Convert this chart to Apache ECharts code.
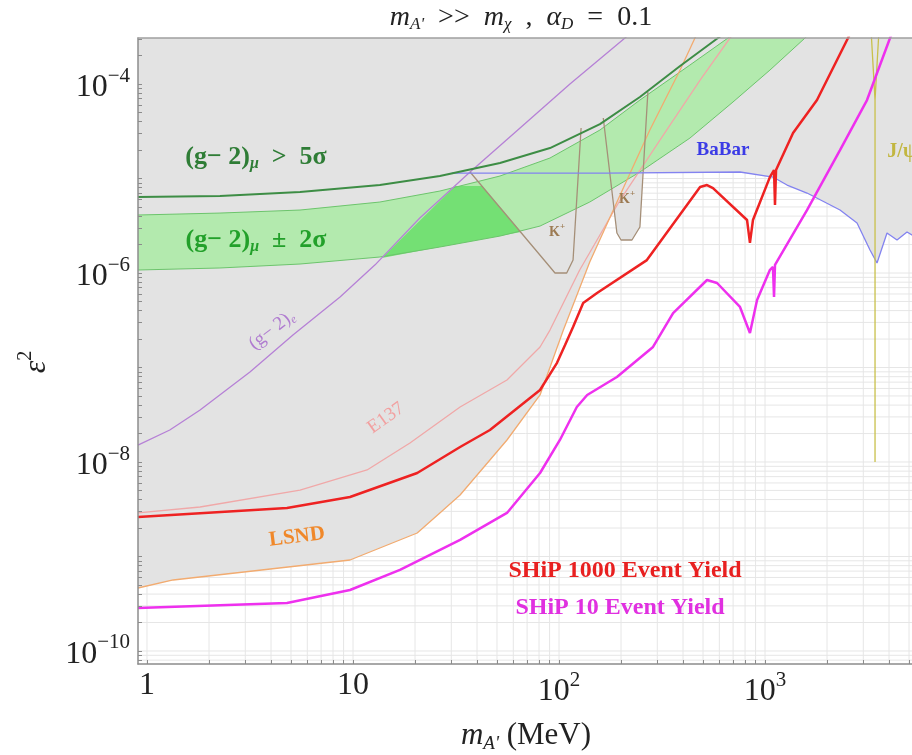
<!DOCTYPE html>
<html>
<head>
<meta charset="utf-8">
<script src="https://cdn.jsdelivr.net/npm/echarts@6.0.0/dist/echarts.min.js"></script>
<style>
  html, body { margin: 0; padding: 0; background: #fff; }
  #chart { width: 912px; height: 755px; }
</style>
</head>
<body>
<div id="chart"></div>
<script>
// axis ranges: m_A' in MeV, epsilon^2
const xRange = [0.9043, 5287]
const yRange = [7.28e-11, 3.07e-4]
const xLabelValues = [1, 10, 100, 1000]
const yLabelValues = [1e-10, 1e-8, 1e-6, 1e-4]

// curves, [m_A' (MeV), eps^2]
const gm2e = [[0.904, 1.51e-8], [1.29, 2.18e-8], [1.81, 3.55e-8], [3.16, 8.95e-8], [5.11, 2.21e-7], [8.65, 5.57e-7], [12.8, 1.22e-6], [21.1, 3.82e-6], [37.0, 1.17e-5], [64.7, 3.42e-5], [113, 1e-4], [209, 3.07e-4], [277, 5.4e-4]]
const gm2mu5sigma = [[0.904, 6.37e-6], [2.26, 6.53e-6], [5.53, 7.2e-6], [13.5, 8.53e-6], [26.4, 1.063e-5], [51.7, 1.459e-5], [90.4, 2.1e-5], [158, 3.77e-5], [247, 7.29e-5], [387, 1.55e-4], [591, 3.07e-4], [756, 4.53e-4]]
const bandUpper = [[0.904, 4.11e-6], [2.26, 4.31e-6], [5.53, 4.64e-6], [13.5, 5.64e-6], [26.4, 7.37e-6], [51.7, 1.063e-5], [90.4, 1.648e-5], [158, 3.26e-5], [247, 6.77e-5], [432, 1.589e-4], [661, 3.07e-4], [845, 4.75e-4]]
const bandLower = [[0.904, 1.076e-6], [2.26, 1.13e-6], [5.53, 1.245e-6], [13.5, 1.477e-6], [26.4, 1.884e-6], [51.7, 2.46e-6], [80.9, 3.14e-6], [141, 5.64e-6], [247, 1.172e-5], [432, 2.68e-5], [699, 6.45e-5], [1057, 1.406e-4], [1564, 3.07e-4], [1956, 4.75e-4]]
const bandAllowed = [[13.8, 1.442e-6], [31.3, 8.33e-6], [42.3, 8.33e-6], [65.4, 2.72e-6], [51.7, 2.46e-6], [26.4, 1.884e-6]]
const kaonA = [[37.0, 1.172e-5], [90.4, 1.157e-6], [95.6, 1e-6], [109, 1e-6], [117, 1.373e-6], [128, 3.42e-5]]
const kaonB = [[164, 4.37e-5], [191, 2.65e-6], [200, 2.235e-6], [226, 2.235e-6], [247, 3.07e-6], [270, 8.23e-5]]
const babar = [[30.2, 1.143e-5], [171, 1.143e-5], [756, 1.172e-5], [1093, 1.037e-5], [1279, 8.53e-6], [1599, 7.02e-6], [2312, 4.64e-6], [2797, 3.38e-6], [3233, 1.751e-6], [3497, 1.276e-6], [3910, 2.65e-6], [4373, 2.235e-6], [4890, 2.72e-6], [5654, 2.235e-6]]
const jpsi = [[3271, 3.73e-4], [3420, 6.77e-5], [3420, 1e-8], [3420, 6.77e-5], [3575, 3.73e-4]]
const lsnd = [[0.904, 4.64e-10], [1.34, 5.64e-10], [9.67, 9.18e-10], [20.5, 1.773e-9], [26.4, 2.89e-9], [33.1, 4.47e-9], [55.9, 1.709e-8], [80.9, 5.12e-8], [105, 2.49e-7], [141, 1.307e-6], [198, 6.69e-6], [276, 3.26e-5], [387, 1.406e-4], [457, 3.07e-4], [511, 4.75e-4]]
const e137 = [[0.904, 2.89e-9], [1.81, 3.34e-9], [5.53, 5.05e-9], [11.7, 8.23e-9], [18.9, 1.589e-8], [33.1, 3.82e-8], [55.9, 7.37e-8], [80.9, 1.648e-7], [90.4, 2.49e-7], [126, 1.076e-6], [198, 5.92e-6], [309, 2.55e-5], [484, 1.102e-4], [676, 3.07e-4], [800, 4.75e-4]]
const ship1000 = [[0.904, 2.62e-9], [4.78, 3.26e-9], [9.67, 4.26e-9], [20.5, 7.65e-9], [33.1, 1.44e-8], [46.2, 2.18e-8], [80.9, 5.78e-8], [97.8, 1.12e-7], [107, 1.73e-7], [117, 2.68e-7], [131, 4.81e-7], [153, 6.14e-7], [267, 1.37e-6], [484, 8.13e-6], [523, 8.53e-6], [559, 7.93e-6], [818, 3.64e-6], [845, 2.08e-6], [874, 3.64e-6], [1057, 1.04e-5], [1106, 1.23e-5], [1118, 5.24e-6], [1131, 1.23e-5], [1368, 3.03e-5], [1788, 6.77e-5], [2529, 3.07e-4], [2893, 5.78e-4]]
const ship10 = [[0.904, 2.85e-10], [4.78, 3.22e-10], [9.67, 4.42e-10], [16.9, 7.2e-10], [33.1, 1.5e-9], [55.9, 2.89e-9], [80.9, 7.65e-9], [101, 1.71e-8], [122, 3.82e-8], [137, 5.12e-8], [191, 7.93e-8], [286, 1.65e-7], [358, 3.77e-7], [523, 8.43e-7], [585, 7.84e-7], [756, 4.37e-7], [845, 2.32e-7], [915, 5.18e-7], [1057, 1.08e-6], [1093, 1.16e-6], [1106, 5.57e-7], [1118, 1.22e-6], [1599, 4.64e-6], [2312, 2.0e-5], [3127, 6.77e-5], [4045, 3.07e-4], [4522, 5.37e-4]]
// lower edge of the excluded (grey) region
const excludedEdge = [[0.904, 4.64e-10], [1.34, 5.64e-10], [9.67, 9.18e-10], [20.5, 1.773e-9], [26.4, 2.89e-9], [33.1, 4.47e-9], [55.9, 1.709e-8], [80.9, 5.12e-8], [105, 2.49e-7], [141, 1.307e-6], [185, 4.87e-6], [191, 2.65e-6], [200, 2.235e-6], [226, 2.235e-6], [247, 3.07e-6], [256, 1.143e-5], [756, 1.172e-5], [1093, 1.037e-5], [1279, 8.53e-6], [1599, 7.02e-6], [2312, 4.64e-6], [2797, 3.38e-6], [3233, 1.751e-6], [3497, 1.276e-6], [3910, 2.65e-6], [4373, 2.235e-6], [4890, 2.72e-6], [5654, 2.235e-6]]

// tick positions 1..9 x 10^k
const decadesX = [1, 10, 100, 1000]
const decadesY = [1e-11, 1e-10, 1e-9, 1e-8, 1e-7, 1e-6, 1e-5, 1e-4]
const steps = [1, 2, 3, 4, 5, 6, 7, 8, 9]
const xTickValues = decadesX.flatMap(d => steps.map(k => k * d)).filter(v => v >= xRange[0] && v <= xRange[1])
const yTickValues = decadesY.flatMap(d => steps.map(k => k * d)).filter(v => v >= yRange[0] && v <= yRange[1])

const FONT = 'Liberation Serif'
const yCeil = yRange[1] * 3

function tokens(size, color, weight) {
  return {
    n: { fontFamily: FONT, fontSize: size, fontWeight: weight, fill: color, color: color, verticalAlign: 'middle' },
    i: { fontFamily: FONT, fontSize: size, fontWeight: weight, fontStyle: 'italic', fill: color, color: color, verticalAlign: 'middle' },
    sub: { fontFamily: FONT, fontSize: Math.round(size * 0.62), fontWeight: weight, fontStyle: 'italic', fill: color, color: color, verticalAlign: 'middle', padding: [Math.round(size * 0.5), 0, 0, 0] },
    sup: { fontFamily: FONT, fontSize: Math.round(size * 0.62), fontWeight: weight, fill: color, color: color, verticalAlign: 'middle', padding: [0, 0, Math.round(size * 0.7), 0] }
  }
}

function note(text, x, y, size, color, weight, rot) {
  return {
    type: 'text', x: x, y: y, rotation: rot || 0, z: 100, silent: true,
    style: {
      text: text, fontFamily: FONT, fontSize: size, fontWeight: weight, fill: color,
      align: 'center', verticalAlign: 'middle', rich: tokens(size, color, weight)
    }
  }
}

function area(points, color, z) {
  return {
    type: 'custom', coordinateSystem: 'cartesian2d', z: z, silent: true, clip: true,
    data: [[1, 1e-6]],
    renderItem: (params, api) => ({
      type: 'polygon',
      shape: { points: points.map(p => api.coord(p)) },
      style: { fill: color, stroke: null }
    })
  }
}

function curve(data, color, width, z) {
  return {
    type: 'line', data: data, showSymbol: false, silent: true, z: z || 4,
    lineStyle: { color: color, width: width }, clip: true
  }
}

function powerLabel(v) {
  const e = Math.round(Math.log10(v))
  if (e === 0) return '{n|1}'
  if (e === 1) return '{n|10}'
  return '{n|10}{sup|' + (e < 0 ? '\u2212' + (-e) : e) + '}'
}

const xLabelRich = {
  n: { fontFamily: FONT, fontSize: 32, color: '#222', verticalAlign: 'middle' },
  sup: { fontFamily: FONT, fontSize: 21, color: '#222', verticalAlign: 'middle', padding: [0, 0, 22, 0] }
}
const yLabelRich = {
  n: { fontFamily: FONT, fontSize: 32, color: '#222', verticalAlign: 'middle', padding: [8, 0, 0, 0] },
  sup: { fontFamily: FONT, fontSize: 21, color: '#222', verticalAlign: 'middle', padding: [0, 0, 16, 0] }
}

const gridLines = {
  type: 'custom', coordinateSystem: 'cartesian2d', z: 0, silent: true, clip: true,
  data: [[1, 1e-6]],
  renderItem: (params, api) => {
    const children = []
    xTickValues.forEach(v => {
      const a = api.coord([v, yRange[0]])
      const b = api.coord([v, yRange[1]])
      children.push({ type: 'line', shape: { x1: a[0], y1: a[1], x2: b[0], y2: b[1] }, style: { stroke: '#e6e6e6', lineWidth: 1 } })
    })
    yTickValues.forEach(v => {
      const a = api.coord([xRange[0], v])
      const b = api.coord([xRange[1], v])
      children.push({ type: 'line', shape: { x1: a[0], y1: a[1], x2: b[0], y2: b[1] }, style: { stroke: '#e6e6e6', lineWidth: 1 } })
    })
    return { type: 'group', children: children }
  }
}

const greyRegion = excludedEdge.concat([[xRange[1] * 2, excludedEdge[excludedEdge.length - 1][1]], [xRange[1] * 2, yCeil], [xRange[0] / 2, yCeil], [xRange[0] / 2, excludedEdge[0][1]]])
const band = bandUpper.concat(bandLower.slice().reverse())

const myChart = echarts.init(document.getElementById('chart'))
const option = {
  animation: false,
  textStyle: { fontFamily: FONT },
  grid: { left: 138, top: 38, right: -2, bottom: 91, show: false, outerBoundsMode: 'none', containLabel: false },
  xAxis: [{
    type: 'log', logBase: 10, min: xRange[0], max: xRange[1], z: 10,
    axisLine: { lineStyle: { color: '#8c8c8c', width: 1.5 } },
    axisTick: { inside: true, length: 4, customValues: xTickValues, lineStyle: { color: '#8c8c8c' } },
    axisLabel: { customValues: xLabelValues, formatter: powerLabel, margin: 6, rich: xLabelRich, color: '#222', fontSize: 32 },
    splitLine: { show: false },
    name: '{i|m}{sub|A\'}{n| (MeV)}', nameLocation: 'middle', nameGap: 54,
    nameTextStyle: { rich: tokens(31, '#222', 'normal') }
  }, {
    type: 'log', logBase: 10, min: xRange[0], max: xRange[1], position: 'top', z: 10,
    axisLine: { lineStyle: { color: '#a0a0a0', width: 1.5 } },
    axisTick: { show: false }, axisLabel: { show: false }, splitLine: { show: false }
  }],
  yAxis: {
    type: 'log', logBase: 10, min: yRange[0], max: yRange[1], z: 10,
    axisLine: { lineStyle: { color: '#8c8c8c', width: 1.5 } },
    axisTick: { inside: true, length: 4, customValues: yTickValues, lineStyle: { color: '#8c8c8c' } },
    axisLabel: { customValues: yLabelValues, formatter: powerLabel, margin: 8, rich: yLabelRich, color: '#222', fontSize: 32 },
    splitLine: { show: false },
    name: '{i|\u03b5}{sup|2}', nameLocation: 'middle', nameGap: 80, nameRotate: 90,
    nameTextStyle: { rich: tokens(32, '#222', 'normal'), padding: [0, 22, 0, 0] }
  },
  series: [
    gridLines,
    area(greyRegion, '#e3e3e3', 1),
    area(band, '#b3eaae', 2),
    area(bandAllowed, '#74e074', 2),
    curve(bandUpper, '#6cc46c', 1, 3),
    curve(bandLower, '#6cc46c', 1, 3),
    curve(e137, '#f0a8a8', 1.3),
    curve(lsnd, '#f2ab70', 1.3),
    curve(gm2e, '#b681d6', 1.3),
    curve(kaonA, '#a58f78', 1.3),
    curve(kaonB, '#a58f78', 1.3),
    curve(babar, '#8383f0', 1.3),
    curve(jpsi, '#c8c04a', 1.3),
    curve(gm2mu5sigma, '#3d8d45', 2),
    curve(ship1000, '#ee2222', 2.5, 5),
    curve(ship10, '#ee30ee', 2.5, 5)
  ],
  graphic: [
    note('{i|m}{sub|A\'}{n|  >>  }{i|m}{sub|\u03c7}{n|  ,  }{i|\u03b1}{sub|D}{n|  =  0.1}', 521, 18, 28, '#222', 'normal'),
    note('{n|(g\u2212 2)}{sub|\u03bc}{n|  >  5\u03c3}', 256, 157, 26, '#2f7d36', 'bold'),
    note('{n|(g\u2212 2)}{sub|\u03bc}{n|  \u00b1  2\u03c3}', 256, 240, 26, '#22a02a', 'bold'),
    note('{n|(g\u2212 2)}{sub|e}', 272, 330, 19, '#b07cd0', 'normal', 0.66),
    note('{n|E137}', 386, 418, 19, '#f2a0a0', 'normal', 0.62),
    note('{n|LSND}', 297, 537, 21, '#f0882a', 'bold', 0.12),
    note('{n|K}{sup|+}', 557, 232, 14, '#9c7a52', 'bold'),
    note('{n|K}{sup|+}', 627, 199, 14, '#9c7a52', 'bold'),
    note('{n|BaBar}', 723, 150, 19, '#3b3be6', 'bold'),
    note('{n|J/\u03c8}', 902, 152, 20, '#c2b640', 'bold'),
    note('{n|SHiP 1000 Event Yield}', 625, 571, 24, '#e82020', 'bold'),
    note('{n|SHiP 10 Event Yield}', 620, 608, 24, '#e030e0', 'bold')
  ]
}
option && myChart.setOption(option)
</script>
</body>
</html>
